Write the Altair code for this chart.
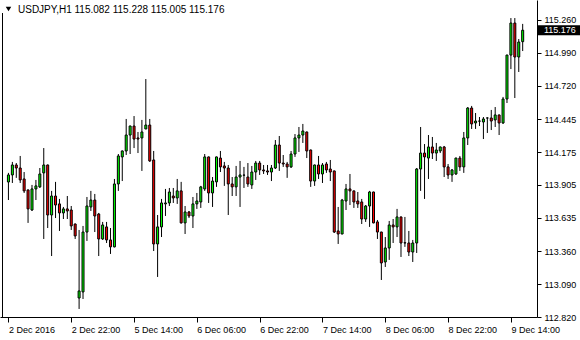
import json
import altair as alt
import pandas as pd

symbol = "USDJPY,H1"

opens = [113.929, 113.987, 114.069, 114.044, 113.954, 113.864, 113.699, 113.872, 113.889, 114.004,
         114.069, 113.658, 113.814, 113.749, 113.675, 113.708, 113.699, 113.584, 112.976, 113.026,
         113.518, 113.724, 113.781, 113.666, 113.461, 113.560, 113.453, 113.396, 113.913, 114.135,
         114.184, 114.315, 114.389, 114.291, 114.291, 114.365, 114.397, 114.110, 113.420, 113.560,
         113.749, 113.757, 113.814, 113.798, 113.856, 113.593, 113.683, 113.650, 113.749, 113.765,
         113.872, 114.135, 113.839, 113.930, 114.126, 114.061, 114.044, 113.913, 113.889, 113.970,
         113.985, 113.970, 113.905, 114.011, 114.085, 114.028, 114.020, 114.011, 114.044, 114.233,
         114.085, 114.077, 114.053, 114.159, 114.291, 114.315, 114.340, 114.192, 113.937, 114.069,
         113.995, 114.077, 114.036, 114.020, 113.527, 113.502, 113.773, 113.872, 113.856, 113.773,
         113.765, 113.625, 113.732, 113.847, 113.601, 113.518, 113.272, 113.387, 113.576, 113.560,
         113.642, 113.430, 113.428, 113.354, 113.428, 114.036, 114.167, 114.126, 114.217, 114.167,
         114.184, 114.217, 114.053, 113.987, 113.995, 114.126, 114.053, 114.291, 114.537, 114.414,
         114.430, 114.422, 114.455, 114.455, 114.439, 114.480, 114.414, 114.611, 114.972, 115.235,
         114.956, 115.082]

highs = [114.004, 114.094, 114.085, 114.143, 114.011, 113.866, 113.905, 113.946, 114.044, 114.208,
         114.072, 113.856, 113.930, 113.790, 113.724, 113.814, 113.732, 113.588, 113.535, 113.568,
         113.806, 113.856, 113.831, 113.675, 113.601, 113.601, 113.551, 113.954, 114.159, 114.188,
         114.447, 114.392, 114.471, 114.340, 114.439, 114.775, 114.447, 114.184, 113.658, 113.790,
         113.872, 113.880, 113.880, 113.954, 113.930, 113.732, 113.691, 113.806, 113.839, 113.897,
         114.159, 114.138, 113.970, 114.138, 114.184, 114.094, 114.069, 113.970, 114.061, 114.102,
         114.053, 114.085, 114.061, 114.102, 114.102, 114.069, 114.069, 114.069, 114.274, 114.307,
         114.151, 114.094, 114.184, 114.323, 114.381, 114.406, 114.343, 114.195, 114.072, 114.143,
         114.085, 114.094, 114.110, 114.022, 113.724, 113.790, 113.913, 113.995, 113.858, 113.847,
         113.790, 113.740, 113.856, 113.849, 113.617, 113.520, 113.477, 113.609, 113.625, 113.708,
         113.644, 113.642, 113.527, 113.453, 114.044, 114.381, 114.241, 114.315, 114.299, 114.250,
         114.219, 114.225, 114.077, 114.036, 114.128, 114.143, 114.340, 114.545, 114.554, 114.496,
         114.463, 114.463, 114.460, 114.521, 114.545, 114.482, 114.628, 114.974, 115.276, 115.276,
         115.104, 115.228]

lows = [113.781, 113.921, 113.963, 113.921, 113.839, 113.593, 113.691, 113.781, 113.880, 113.461,
        113.551, 113.321, 113.633, 113.527, 113.625, 113.625, 113.535, 113.461, 112.886, 112.968,
        113.445, 113.691, 113.518, 113.321, 113.453, 113.428, 113.338, 113.392, 113.856, 113.937,
        114.151, 114.159, 114.208, 114.167, 114.020, 114.363, 114.094, 113.362, 113.149, 113.477,
        113.650, 113.732, 113.757, 113.749, 113.588, 113.502, 113.633, 113.551, 113.708, 113.716,
        113.856, 113.757, 113.724, 113.889, 114.011, 113.897, 113.658, 113.814, 113.814, 113.724,
        113.880, 113.889, 113.872, 113.946, 113.987, 113.995, 113.987, 113.937, 114.036, 114.020,
        114.053, 113.963, 114.044, 114.135, 114.176, 114.250, 114.126, 113.889, 113.897, 113.954,
        113.921, 114.004, 113.937, 113.510, 113.420, 113.500, 113.699, 113.740, 113.716, 113.716,
        113.584, 113.601, 113.560, 113.590, 113.461, 113.124, 113.231, 113.289, 113.428, 113.477,
        113.313, 113.396, 113.321, 113.272, 113.346, 113.856, 113.790, 113.954, 114.118, 114.102,
        114.167, 113.970, 113.954, 113.930, 113.987, 114.020, 114.004, 114.233, 114.365, 114.365,
        114.389, 114.282, 114.332, 114.356, 114.381, 114.315, 114.406, 114.578, 114.857, 114.619,
        114.833, 115.005]

closes = [113.987, 114.069, 114.044, 113.946, 113.856, 113.708, 113.872, 113.897, 113.995, 114.069,
          113.658, 113.814, 113.740, 113.675, 113.708, 113.691, 113.568, 113.486, 113.034, 113.518,
          113.732, 113.781, 113.650, 113.461, 113.576, 113.453, 113.396, 113.913, 114.143, 114.184,
          114.315, 114.389, 114.282, 114.282, 114.340, 114.397, 114.102, 113.420, 113.560, 113.757,
          113.757, 113.847, 113.798, 113.856, 113.593, 113.683, 113.650, 113.749, 113.773, 113.889,
          114.135, 113.839, 113.937, 114.135, 114.053, 114.044, 113.913, 113.889, 113.970, 113.987,
          113.986, 113.913, 114.011, 114.085, 114.028, 114.020, 114.011, 114.044, 114.233, 114.085,
          114.077, 114.053, 114.159, 114.291, 114.315, 114.348, 114.184, 113.937, 114.069, 113.995,
          114.069, 114.028, 114.011, 113.518, 113.502, 113.781, 113.872, 113.856, 113.765, 113.749,
          113.625, 113.732, 113.847, 113.593, 113.518, 113.264, 113.387, 113.576, 113.560, 113.642,
          113.428, 113.428, 113.354, 113.428, 114.036, 114.167, 114.135, 114.217, 114.167, 114.192,
          114.217, 114.053, 113.987, 114.028, 114.126, 114.053, 114.291, 114.537, 114.406, 114.430,
          114.429, 114.447, 114.455, 114.430, 114.480, 114.414, 114.611, 114.972, 115.235, 114.956,
          115.079, 115.176]

tick_positions = [0, 16, 32, 48, 64, 80, 96, 112, 128]
tick_labels = ["2 Dec 2016", "2 Dec 22:00", "5 Dec 14:00", "6 Dec 06:00", "6 Dec 22:00",
               "7 Dec 14:00", "8 Dec 06:00", "8 Dec 22:00", "9 Dec 14:00"]
price_ticks = [115.260, 114.990, 114.720, 114.445, 114.175, 113.905, 113.635, 113.360, 113.090, 112.820]

GREEN = "#00FF00"
RED = "#FF0000"
FONT = "Liberation Sans"

n = len(closes)
df = pd.DataFrame({"i": list(range(n)), "open": opens, "high": highs, "low": lows, "close": closes})

last = pd.DataFrame({
    "close": [closes[-1]],
    "label": [f"{closes[-1]:.3f}"],
    "header": [f"{symbol}  {opens[-1]:.3f} {highs[-1]:.3f} {lows[-1]:.3f} {closes[-1]:.3f}"],
})

W, H = 537, 317
xscale = alt.Scale(domain=[-0.875, 133.375], nice=False, zero=False)
yscale = alt.Scale(domain=[112.820, 115.4243], nice=False, zero=False)

label_expr = f"{json.dumps(tick_labels)}[indexof({json.dumps(tick_positions)}, datum.value)]"

xaxis = alt.Axis(values=tick_positions, labelExpr=label_expr, labelAlign="left", labelBaseline="top",
                 tickSize=5, labelPadding=3, labelFlush=False, labelOverlap=False, title=None, grid=False)
yaxis = alt.Axis(orient="right", values=price_ticks, format=".3f", tickSize=4, labelPadding=3,
                 labelFlush=False, labelOverlap=False, title=None, grid=False,
                 labelBaseline="middle", labelAlign="left")

base = alt.Chart(df)

wicks = base.mark_rule(color="black", strokeWidth=1).encode(
    x=alt.X("i:Q", scale=xscale, axis=xaxis),
    y=alt.Y("low:Q", scale=yscale, axis=yaxis),
    y2="high:Q",
)

bodies = base.mark_bar(size=2, stroke="black", strokeWidth=1).encode(
    x=alt.X("i:Q", scale=xscale, axis=xaxis),
    y=alt.Y("open:Q", scale=yscale, axis=yaxis),
    y2="close:Q",
    color=alt.condition("datum.close >= datum.open", alt.value(GREEN), alt.value(RED)),
)

frame_left = alt.Chart(last).mark_rule(color="black", strokeWidth=1).encode(
    x=alt.value(2.5), y=alt.value(13), y2=alt.value(H)
)

header_arrow = alt.Chart(last).mark_point(shape="triangle-down", filled=True, color="black",
                                          size=30, opacity=1).encode(
    x=alt.value(8.5), y=alt.value(9)
)

header_text = alt.Chart(last).mark_text(align="left", baseline="middle", font=FONT,
                                        fontSize=10, color="black").encode(
    x=alt.value(18), y=alt.value(10), text="header:N"
)

price_box = alt.Chart(last).mark_rect(color="black", height=10).encode(
    x=alt.value(538), x2=alt.value(580),
    y=alt.Y("close:Q", scale=yscale, axis=yaxis),
)

price_text = alt.Chart(last).mark_text(align="left", baseline="middle", font=FONT,
                                       fontSize=9, color="white").encode(
    x=alt.value(544),
    y=alt.Y("close:Q", scale=yscale, axis=yaxis),
    text="label:N",
)

chart = alt.layer(wicks, bodies, frame_left, header_arrow, header_text, price_box, price_text).properties(
    width=W, height=H,
    autosize=alt.AutoSizeParams(type="none"),
    padding={"left": 0, "top": 0, "right": 43, "bottom": 23},
    background="white",
).configure_view(stroke=None).configure_axis(
    labelFont=FONT, labelFontSize=9, labelColor="black",
    domainColor="black", tickColor="black", domainWidth=1, tickWidth=1,
)

chart.save("out.html", embed_options={"renderer": "svg", "actions": False})
